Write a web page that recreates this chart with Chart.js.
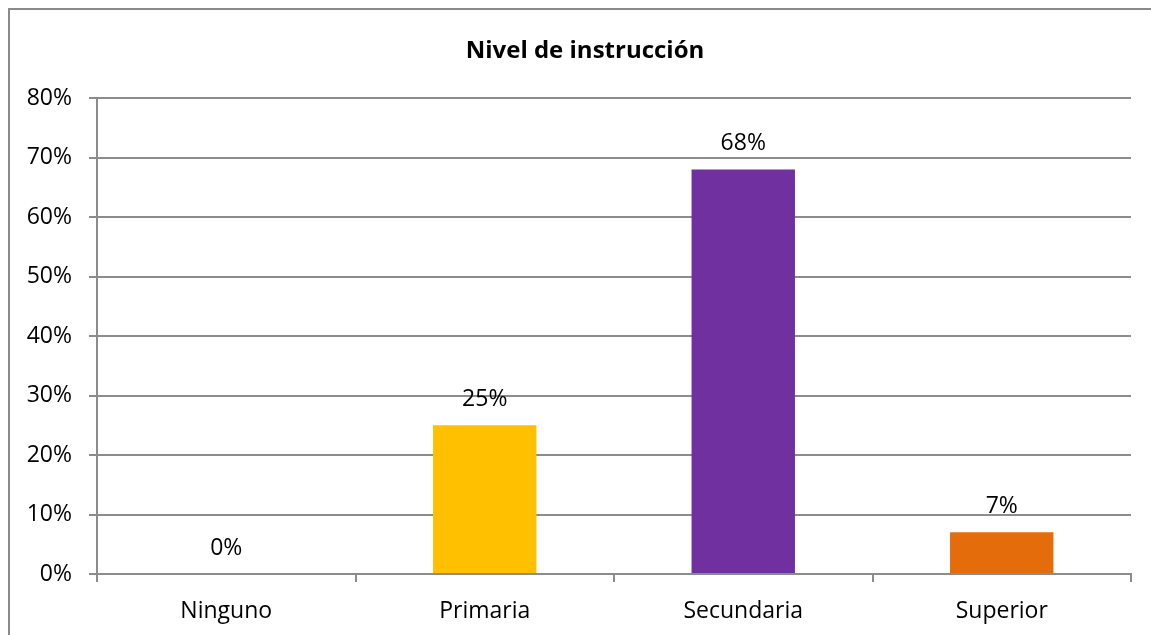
<!DOCTYPE html>
<html>
<head>
<meta charset="utf-8">
<script src="https://cdn.jsdelivr.net/npm/chart.js@4"></script>
<style>
  html, body { margin: 0; padding: 0; background: #ffffff; }
  #wrap { position: relative; width: 1151px; height: 635px; }
</style>
</head>
<body>
<div id="wrap"><canvas id="c" width="1151" height="635"></canvas></div>
<script>
// Nivel de instrucción: share of respondents by education level
const categories = ['Ninguno', 'Primaria', 'Secundaria', 'Superior'];
const percentValues = [0, 25, 68, 7];
const barColors = ['#4F81BD', '#FFC000', '#7030A0', '#E46C0A'];
const chartTitle = 'Nivel de instrucción';
const yTickMax = 80;
const yTickStep = 10;

const FONT = "'Open Sans', 'Noto Sans', sans-serif";
const GRID = '#8c8c8c';

// Outer frame of the chart object and its centred title
const framePlugin = {
  id: 'frame',
  beforeDraw(chart) {
    const ctx = chart.ctx;
    ctx.save();
    ctx.fillStyle = '#ffffff';
    ctx.fillRect(0, 0, chart.width, chart.height);
    ctx.strokeStyle = '#8a8a8a';
    ctx.lineWidth = 2;
    ctx.strokeRect(9, 9, chart.width + 40, chart.height + 40);
    ctx.font = 'bold 24px ' + FONT;
    ctx.fillStyle = '#000000';
    ctx.textAlign = 'center';
    ctx.textBaseline = 'middle';
    ctx.fillText(chartTitle, 585, 51);
    ctx.restore();
  }
};

// Value labels above each bar
const valueLabels = {
  id: 'valueLabels',
  afterDatasetsDraw(chart) {
    const ctx = chart.ctx;
    const meta = chart.getDatasetMeta(0);
    ctx.save();
    ctx.font = '23px ' + FONT;
    ctx.fillStyle = '#000000';
    ctx.textAlign = 'center';
    ctx.textBaseline = 'middle';
    meta.data.forEach((bar, i) => {
      ctx.fillText(percentValues[i] + '%', bar.x, bar.y - 26);
    });
    ctx.restore();
  }
};

new Chart(document.getElementById('c'), {
  type: 'bar',
  data: {
    labels: categories,
    datasets: [{
      data: percentValues,
      backgroundColor: barColors,
      borderWidth: 0,
      barPercentage: 0.4,
      categoryPercentage: 1.0
    }]
  },
  options: {
    responsive: false,
    animation: false,
    layout: { padding: { left: 0, right: 20, top: 98, bottom: 0 } },
    plugins: {
      legend: { display: false },
      tooltip: { enabled: false },
      title: { display: false }
    },
    scales: {
      x: {
        grid: {
          display: true,
          offset: true,
          drawOnChartArea: false,
          drawTicks: true,
          tickLength: 8,
          color: GRID,
          lineWidth: 2
        },
        border: { display: true, color: GRID, width: 2 },
        ticks: {
          color: '#000000',
          font: { family: FONT, size: 23 },
          padding: 16
        },
        afterFit(scale) { scale.height = 61; }
      },
      y: {
        min: 0,
        max: yTickMax,
        grid: {
          color: GRID,
          lineWidth: 2,
          drawTicks: true,
          tickLength: 8
        },
        border: { display: true, color: GRID, width: 2 },
        ticks: {
          stepSize: yTickStep,
          color: '#000000',
          font: { family: FONT, size: 23 },
          padding: 17,
          callback: v => v + '%'
        },
        afterFit(scale) { scale.width = 97; }
      }
    }
  },
  plugins: [framePlugin, valueLabels]
});
</script>
</body>
</html>
